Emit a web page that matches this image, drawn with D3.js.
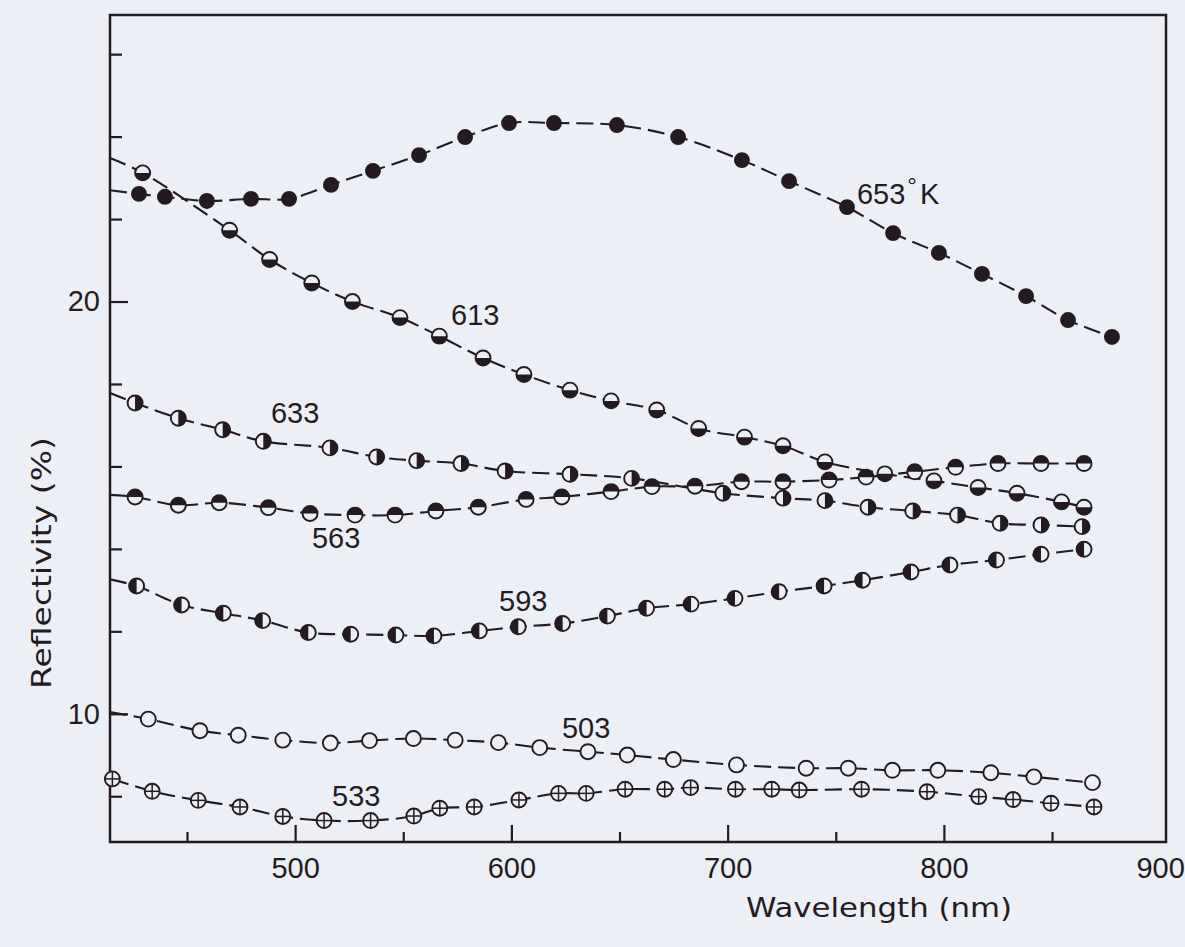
<!DOCTYPE html>
<html><head><meta charset="utf-8">
<script src="https://cdn.jsdelivr.net/npm/d3@7/dist/d3.min.js"></script>
<style>
html,body{margin:0;padding:0;background:#edeff6;}
svg{display:block;}
text{font-family:"Liberation Sans",Arial,sans-serif;fill:#231b20;}
</style></head><body>
<svg id="chart" width="1185" height="947"></svg>
<script>
// ---------- data (wavelength in nm, reflectivity in %) ----------
const xTickLabels = [500, 600, 700, 800, 900];
const xMajorTicks = [500, 600, 700, 800];
const xMinorTicks = [450, 550, 650, 750, 850];
const yTickLabels = [10, 20];
const yMinorTicks = [8, 12, 14, 16, 18, 22, 24, 26];

const seriesNames = ["653", "613", "633", "563", "593", "503", "533"];

const wl653 = [427.8,439.8,459.2,479.6,497.2,516.6,536.0,557.3,578.6,598.9,619.7,648.8,677.1,706.6,728.4,755.2,776.5,797.7,817.6,838.0,857.4,877.7];
const r653  = [22.61,22.54,22.44,22.49,22.49,22.83,23.17,23.55,23.99,24.33,24.33,24.28,23.99,23.43,22.92,22.29,21.66,21.18,20.67,20.13,19.55,19.14];

const wl613 = [429.5,469.7,488.2,507.7,526.5,548.5,566.7,586.9,605.8,627.1,646.1,667.2,686.6,707.8,725.6,745.0,772.7,795.4,815.8,833.8,854.4,864.8];
const r613  = [23.12,21.73,21.02,20.45,20.00,19.61,19.16,18.63,18.23,17.85,17.59,17.37,16.92,16.71,16.50,16.11,15.82,15.65,15.49,15.35,15.14,15.01];

const wl633 = [426.0,446.0,466.5,485.3,516.1,537.7,556.2,576.7,597.1,627.1,655.6,697.8,725.6,745.0,764.9,785.6,806.3,826.0,844.9,863.9];
const r633  = [17.54,17.17,16.89,16.61,16.45,16.23,16.14,16.07,15.89,15.81,15.71,15.35,15.23,15.17,15.01,14.92,14.82,14.62,14.58,14.54];

const wl563 = [426.0,446.0,464.9,487.6,506.9,527.7,546.2,565.1,584.7,606.8,623.3,646.1,665.0,684.9,706.4,725.6,746.9,764.0,786.5,805.4,825.0,844.9,864.8];
const r563  = [15.26,15.06,15.12,15.00,14.86,14.82,14.82,14.92,15.01,15.20,15.26,15.39,15.51,15.52,15.63,15.63,15.67,15.74,15.87,15.98,16.07,16.07,16.07];

const wl593 = [426.7,447.5,466.8,485.0,506.1,525.7,546.6,564.2,585.2,603.2,623.7,644.4,662.5,683.1,703.4,723.8,744.6,762.4,784.8,802.8,824.3,844.9,864.8];
const r593  = [13.10,12.64,12.44,12.26,11.97,11.93,11.91,11.89,12.01,12.11,12.19,12.37,12.56,12.66,12.80,12.96,13.10,13.24,13.44,13.61,13.73,13.87,13.99];

const wl503 = [432.1,456.0,473.7,494.3,516.3,534.4,554.7,574.0,594.0,613.1,635.4,653.6,674.9,704.1,736.3,755.8,776.2,797.2,821.7,841.6,868.7];
const r503  = [9.87,9.59,9.48,9.36,9.29,9.35,9.40,9.36,9.30,9.18,9.08,9.00,8.89,8.76,8.68,8.68,8.63,8.63,8.57,8.47,8.33];

const wl533 = [415.5,433.9,455.2,474.5,494.3,513.4,534.9,554.9,566.9,582.8,603.5,621.8,634.6,652.6,670.9,682.9,703.6,720.4,733.1,761.9,792.2,816.1,832.0,849.5,869.4];
const r533  = [8.42,8.12,7.90,7.74,7.51,7.41,7.41,7.52,7.71,7.74,7.91,8.07,8.07,8.17,8.17,8.21,8.17,8.17,8.15,8.17,8.11,7.99,7.92,7.83,7.74];

// curve value where each drawn line meets the left frame (null = no extension)
const curveStartWl = 414.4;
const curveStartR = [22.70, 23.48, 17.78, 15.31, 13.26, 10.04, null];

// ---------- layout / style ----------
const ink = "#231b20", bg = "#edeff6";
const svg = d3.select("#chart");
svg.append("rect").attr("width",1185).attr("height",947).attr("fill",bg);

const L = 110, R = 1166, T = 15, B = 842;
const x = d3.scaleLinear().domain([414.4, 902.7]).range([L, R]);
const y = d3.scaleLinear().domain([6.89, 26.95]).range([B, T]);

const seriesWl = [wl653, wl613, wl633, wl563, wl593, wl503, wl533];
const seriesR  = [r653, r613, r633, r563, r593, r503, r533];
const markerType = ["filled","bottom","right","top","left","open","plus"];
// label anchors in data units (wavelength, reflectivity at baseline)
const labelPos = [[759.8,22.37],[572.1,19.43],[488.8,17.05],[507.8,14.02],[594.3,12.49],[623.4,9.41],[517.1,7.76]];

// ---------- axes ----------
const gx = svg.append("g").attr("transform",`translate(0,${B})`);
gx.append("g").call(d3.axisBottom(x).tickValues(xMajorTicks).tickSize(-17).tickFormat(""));
gx.append("g").call(d3.axisBottom(x).tickValues(xMinorTicks).tickSize(-10).tickFormat(""));
gx.append("g").call(d3.axisBottom(x).tickValues(xTickLabels).tickSize(0).tickPadding(15).tickFormat(d3.format("d")));
const gy = svg.append("g").attr("transform",`translate(${L},0)`);
gy.append("g").call(d3.axisLeft(y).tickValues(yTickLabels).tickSize(-18).tickFormat(""));
gy.append("g").call(d3.axisLeft(y).tickValues(yMinorTicks).tickSize(-12).tickFormat(""));
gy.append("g").call(d3.axisLeft(y).tickValues(yTickLabels).tickSize(0).tickPadding(10).tickFormat(d3.format("d")));
svg.selectAll(".domain").remove();
svg.selectAll(".tick line").attr("stroke",ink).attr("stroke-width",2.2);
svg.selectAll(".tick text").attr("fill",ink).style("font-size","29px").style("font-family","'Liberation Sans',Arial,sans-serif");

// frame
svg.append("rect").attr("x",L).attr("y",T).attr("width",R-L).attr("height",B-T)
  .attr("fill","none").attr("stroke",ink).attr("stroke-width",2.5);

// axis titles
svg.append("text").attr("x",746).attr("y",917).attr("textLength",266).attr("lengthAdjust","spacingAndGlyphs")
  .style("font-family","'DejaVu Sans',sans-serif").style("font-size","27px").text("Wavelength  (nm)");
svg.append("text").attr("transform","translate(51,563) rotate(-90)").attr("text-anchor","middle")
  .attr("textLength",252).attr("lengthAdjust","spacingAndGlyphs")
  .style("font-family","'DejaVu Sans',sans-serif").style("font-size","27px").text("Reflectivity  (%)");

// ---------- curves ----------
const line = d3.line().x(d=>x(d[0])).y(d=>y(d[1])).curve(d3.curveCatmullRom.alpha(0.5));
seriesWl.forEach((wl,i)=>{
  let pts = wl.map((w,j)=>[w, seriesR[i][j]]);
  if (curveStartR[i] !== null) pts = [[curveStartWl, curveStartR[i]]].concat(pts);
  svg.append("path").attr("d", line(pts)).attr("fill","none").attr("stroke",ink)
    .attr("stroke-width",2.1).attr("stroke-dasharray","17,7");
});

// ---------- markers ----------
const arc = d3.arc();
const halfStart = {bottom: Math.PI/2, top: -Math.PI/2, right: 0, left: Math.PI};
seriesWl.forEach((wl,i)=>{
  const t = markerType[i];
  const rr = t === "filled" ? 7 : 7.5;
  wl.forEach((w,j)=>{
    const g = svg.append("g").attr("transform",`translate(${x(w)},${y(seriesR[i][j])})`);
    g.append("circle").attr("r",rr).attr("fill", t==="filled" ? ink : bg)
      .attr("stroke",ink).attr("stroke-width",1.9);
    if (halfStart[t] !== undefined) {
      g.append("path").attr("d", arc({innerRadius:0, outerRadius:rr, startAngle:halfStart[t], endAngle:halfStart[t]+Math.PI}))
        .attr("fill",ink);
    }
    if (t === "plus") {
      g.append("line").attr("x1",-rr).attr("x2",rr).attr("stroke",ink).attr("stroke-width",1.5);
      g.append("line").attr("y1",-rr).attr("y2",rr).attr("stroke",ink).attr("stroke-width",1.5);
    }
  });
});

// ---------- series labels ----------
seriesNames.forEach((name,i)=>{
  const t = svg.append("text").attr("x", x(labelPos[i][0])).attr("y", y(labelPos[i][1]))
    .style("font-size","29px");
  if (i === 0) {
    t.append("tspan").text(name);
    t.append("tspan").attr("dx",2).attr("dy",-10).style("font-size","24px").text("°");
    t.append("tspan").attr("dx",3).attr("dy",10).text("K");
  } else {
    t.text(name);
  }
});
</script>
</body></html>
